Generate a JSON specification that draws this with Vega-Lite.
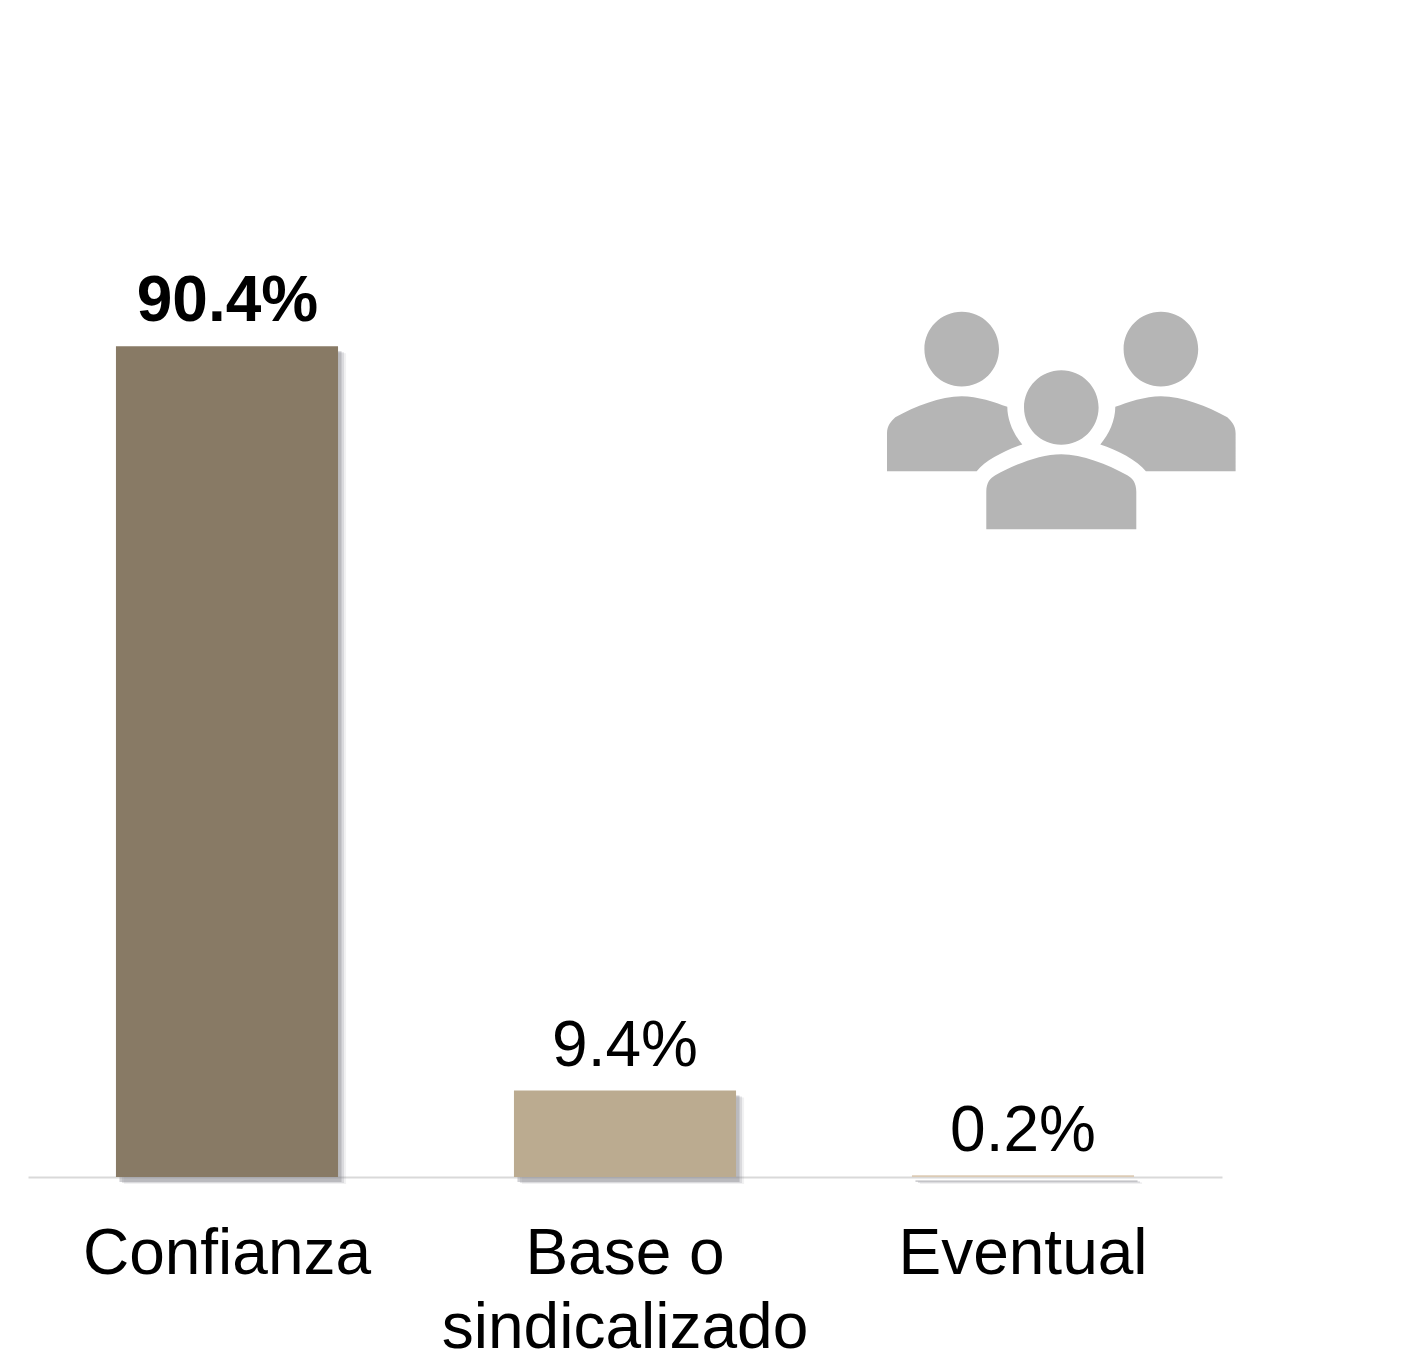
{
  "$schema": "https://vega.github.io/schema/vega-lite/v6.json",
  "width": 1194,
  "height": 1177,
  "autosize": "none",
  "padding": {"left": 28, "top": 0, "right": 198, "bottom": 175},
  "background": "#ffffff",
  "config": {"view": {"stroke": null}},
  "datasets": {
    "empleo": [
      {"tipo": "Confianza", "porcentaje": 90.4, "etiqueta": "90.4%"},
      {"tipo": "Base o sindicalizado", "porcentaje": 9.4, "etiqueta": "9.4%"},
      {"tipo": "Eventual", "porcentaje": 0.2, "etiqueta": "0.2%"}
    ],
    "icono": [{"tipo": "Eventual", "porcentaje": 82.3}]
  },
  "data": {"name": "empleo"},
  "encoding": {
    "x": {
      "field": "tipo", "type": "nominal", "sort": ["Confianza", "Base o sindicalizado", "Eventual"], "title": null,
      "scale": {"paddingInner": 0.442, "paddingOuter": 0.221},
      "axis": {
        "domainColor": "#D9D9D9", "domainWidth": 2, "ticks": false, "labelAngle": 0,
        "labelFont": "Liberation Sans", "labelFontSize": 64, "labelColor": "#000000",
        "labelPadding": 96, "labelBaseline": "alphabetic", "labelLineHeight": 74, "labelLimit": 0,
        "labelExpr": "datum.value == 'Base o sindicalizado' ? ['Base o', 'sindicalizado'] : datum.label"
      }
    },
    "y": {"field": "porcentaje", "type": "quantitative", "title": null, "scale": {"domain": [0, 128.07], "nice": false}, "axis": null}
  },
  "layer": [
    {"mark": {"type": "bar", "color": "#8a8a90", "opacity": 0.12, "xOffset": 8, "yOffset": 7, "y2Offset": 2}},
    {"mark": {"type": "bar", "color": "#8a8a90", "opacity": 0.22, "xOffset": 6, "yOffset": 6, "y2Offset": 2}},
    {"mark": {"type": "bar", "color": "#8a8a90", "opacity": 0.4, "xOffset": 3.5, "yOffset": 5, "y2Offset": 2}},
    {
      "mark": {"type": "bar"},
      "encoding": {
        "color": {
          "field": "tipo", "type": "nominal", "legend": null,
          "scale": {"domain": ["Confianza", "Base o sindicalizado", "Eventual"], "range": ["#887A65", "#BBAB90", "#DCCBB5"]}
        }
      }
    },
    {
      "transform": [{"filter": "datum.tipo == 'Confianza'"}],
      "mark": {"type": "text", "font": "Liberation Sans", "fontSize": 64, "fontWeight": "bold", "color": "#000000", "baseline": "alphabetic", "align": "center", "dy": -25, "dx": 0.5},
      "encoding": {"text": {"field": "etiqueta"}}
    },
    {
      "transform": [{"filter": "datum.tipo != 'Confianza'"}],
      "mark": {"type": "text", "font": "Liberation Sans", "fontSize": 64, "fontWeight": "normal", "color": "#000000", "baseline": "alphabetic", "align": "center", "dy": -24.5},
      "encoding": {"text": {"field": "etiqueta"}}
    },
    {
      "data": {"name": "icono"},
      "mark": {
        "type": "point", "filled": true, "color": "#B5B5B5", "opacity": 1, "size": 4, "xOffset": 38.3,
        "shape": "M-136.9 -71.5 C-136.9 -92.1 -120.2 -108.8 -99.6 -108.8 C-79 -108.8 -62.3 -92.1 -62.3 -71.5 C-62.3 -50.9 -79 -34.2 -99.6 -34.2 C-120.2 -34.2 -136.9 -50.9 -136.9 -71.5 Z M62.3 -71.5 C62.3 -92.1 79 -108.8 99.6 -108.8 C120.2 -108.8 136.9 -92.1 136.9 -71.5 C136.9 -50.9 120.2 -34.2 99.6 -34.2 C79 -34.2 62.3 -50.9 62.3 -71.5 Z M-37.3 -13.2 C-37.3 -33.8 -20.6 -50.5 0 -50.5 C20.6 -50.5 37.3 -33.8 37.3 -13.2 C37.3 7.4 20.6 24.1 0 24.1 C-20.6 24.1 -37.3 7.4 -37.3 -13.2 Z M-75 108.5 L-75 71.2 C-75 61.5 -71 57.5 -66 54.5 C-46 43.5 -21 33.5 0 33.5 C21 33.5 46 43.5 66 54.5 C71 57.5 75 61.5 75 71.2 L75 108.5 Z M-174.3 50.5 L-174.3 12.5 C-174.3 4.5 -170 0.5 -166 -3.5 C-146 -14.5 -121 -24.5 -99.6 -24.5 C-84 -24.5 -66 -18.5 -54 -13.8 C-54 -0.5 -48 13.5 -39 23.8 C-56 29.5 -76 39.5 -84.6 50.5 Z M174.3 50.5 L174.3 12.5 C174.3 4.5 170 0.5 166 -3.5 C146 -14.5 121 -24.5 99.6 -24.5 C84 -24.5 66 -18.5 54 -13.8 C54 -0.5 48 13.5 39 23.8 C56 29.5 76 39.5 84.6 50.5 Z"
      }
    }
  ]
}
